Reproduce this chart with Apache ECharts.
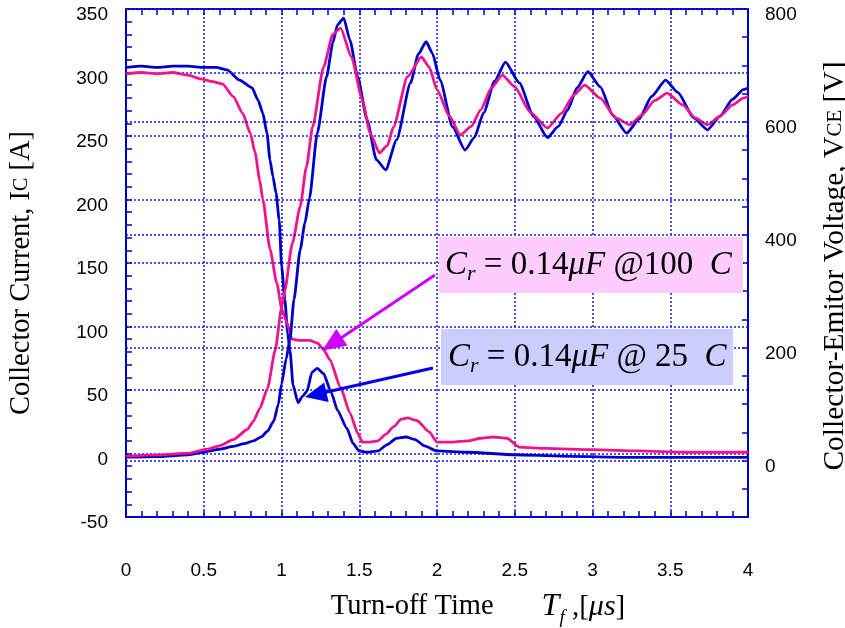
<!DOCTYPE html>
<html>
<head>
<meta charset="utf-8">
<script src="https://cdn.jsdelivr.net/npm/echarts@6/dist/echarts.min.js"></script>
<style>
html, body { margin: 0; padding: 0; background: #fff; }
#chart { width: 845px; height: 628px; }
</style>
</head>
<body>
<div id="chart"></div>
<script>
// Turn-off waveforms of the IGBT with a 0.14 uF snubber capacitor, 25 C vs 100 C.
// Time in microseconds, current in A (left axis), voltage in V (right axis).

// Collector current at 25 C  [t (us), Ic (A)]
const ic25 = [
  [0, 304], [0.1, 305], [0.2, 304], [0.3, 305], [0.4, 305], [0.5, 304], [0.58, 304],
  [0.65, 302], [0.73, 294], [0.81, 288], [0.85, 278], [0.88, 268], [0.907, 252],
  [0.926, 231], [0.945, 218], [0.965, 205], [0.985, 184], [1.001, 147], [1.022, 121],
  [1.039, 95], [1.055, 81], [1.074, 54], [1.106, 40], [1.135, 45], [1.164, 49],
  [1.196, 64], [1.23, 67], [1.27, 63], [1.32, 48], [1.36, 34], [1.42, 20], [1.46, 8],
  [1.5, 2], [1.55, 1], [1.62, 2], [1.68, 7], [1.74, 12], [1.8, 13], [1.86, 11],
  [1.92, 6], [2.0, 2], [2.2, 1], [2.5, -1], [2.8, -2], [3.2, -3], [3.6, -3], [4.0, -3]
];

// Collector current at 100 C
const ic100 = [
  [0, 299], [0.1, 300], [0.2, 299], [0.3, 300], [0.4, 298], [0.48, 295], [0.55, 293],
  [0.62, 291], [0.69, 281], [0.75, 268], [0.8, 252], [0.83, 237], [0.86, 215],
  [0.88, 200], [0.926, 161], [0.97, 134], [1.003, 113], [1.035, 103], [1.068, 90],
  [1.12, 89], [1.18, 89], [1.23, 87], [1.27, 82], [1.31, 74], [1.38, 52], [1.44, 32],
  [1.49, 16], [1.52, 9], [1.57, 9], [1.62, 10], [1.67, 15], [1.72, 21], [1.77, 27],
  [1.81, 28], [1.87, 26], [1.95, 17], [2.0, 9], [2.1, 9], [2.2, 10], [2.28, 12],
  [2.36, 13], [2.45, 12], [2.53, 5], [2.7, 4], [3.0, 3], [3.3, 2], [3.6, 1], [4.0, 1]
];

// Collector-emitter voltage at 25 C  [t (us), Vce (V)]
const vce25 = [
  [0, 6], [0.2, 7], [0.4, 10], [0.52, 16], [0.6, 20], [0.69, 25], [0.76, 30], [0.82, 35],
  [0.87, 42], [0.91, 52], [0.95, 70], [0.98, 100], [1.0, 135], [1.03, 180], [1.055, 215],
  [1.08, 285], [1.12, 373], [1.15, 420], [1.18, 465], [1.23, 580], [1.29, 680],
  [1.33, 740], [1.36, 772], [1.40, 784], [1.44, 745], [1.49, 680], [1.55, 604],
  [1.61, 533], [1.67, 515], [1.74, 568], [1.83, 669], [1.88, 720], [1.93, 742],
  [1.97, 722], [2.02, 674], [2.1, 591], [2.18, 550], [2.24, 572], [2.30, 616],
  [2.37, 672], [2.44, 706], [2.53, 669], [2.62, 610], [2.71, 572], [2.78, 592],
  [2.84, 621], [2.9, 660], [2.97, 689], [3.05, 662], [3.13, 612], [3.22, 580],
  [3.3, 605], [3.38, 645], [3.47, 674], [3.55, 652], [3.65, 607], [3.74, 586],
  [3.82, 610], [3.9, 640], [3.97, 657], [4.0, 660]
];

// Collector-emitter voltage at 100 C
const vce100 = [
  [0, 8], [0.2, 10], [0.4, 13], [0.52, 20], [0.6, 26], [0.69, 37], [0.78, 55], [0.82, 70],
  [0.86, 92], [0.91, 128], [0.96, 196], [1.0, 270], [1.02, 300], [1.07, 385], [1.12, 450],
  [1.16, 520], [1.2, 591], [1.27, 697], [1.33, 755], [1.38, 766], [1.45, 715],
  [1.52, 639], [1.57, 580], [1.63, 545], [1.68, 558], [1.72, 591], [1.81, 680],
  [1.9, 715], [1.95, 697], [2.0, 657], [2.08, 610], [2.15, 577], [2.22, 592],
  [2.28, 621], [2.35, 660], [2.42, 683], [2.5, 662], [2.6, 617], [2.71, 589],
  [2.8, 615], [2.88, 648], [2.95, 665], [3.05, 642], [3.15, 607], [3.24, 595],
  [3.32, 613], [3.4, 638], [3.48, 651], [3.58, 630], [3.66, 607], [3.74, 595],
  [3.82, 610], [3.9, 630], [3.97, 642], [4.0, 645]
];

// Labelled values of the voltage axis
const voltTicks = [0, 200, 400, 600, 800];

const FRAME = '#0000cc';
const GRID = '#1a1ae0';
const BLUE = '#0000cc';
const PINK = '#f0148c';
const SERIF = 'Liberation Serif';
const SANS = 'Liberation Sans';

const chart = echarts.init(document.getElementById('chart'), null, { renderer: 'canvas' });

const tickStyle = { color: FRAME, width: 1.5 };
const gridStyle = { color: GRID, width: 1.5, type: [2, 2] };
const lineAxis = { onZero: false, show: true, lineStyle: { color: FRAME, width: 2 } };
const tickLabel = { color: '#000', fontFamily: SANS, fontSize: 19 };
// vertical-axis numbers sit slightly below their ticks
const yTickLabel = Object.assign({ verticalAlign: 'top', lineHeight: 12 }, tickLabel);

function trace(name, data, color, yIndex) {
  return {
    name: name, type: 'line', data: data, yAxisIndex: yIndex,
    showSymbol: false, symbol: 'none', smooth: 0.2, smoothMonotone: 'x',
    lineStyle: { color: color, width: 2.8 }, itemStyle: { color: color },
    animation: false, silent: true
  };
}

chart.setOption({
  animation: false,
  backgroundColor: '#fff',
  grid: { left: 126, right: 97, top: 9, bottom: 111, containLabel: false, outerBoundsMode: 'none' },
  xAxis: [
    {
      type: 'value', position: 'bottom', min: 0, max: 4, interval: 0.5,
      axisLine: lineAxis,
      axisTick: { show: true, inside: true, length: 6, lineStyle: tickStyle },
      minorTick: { show: true, splitNumber: 5, length: 6, lineStyle: tickStyle },
      axisLabel: Object.assign({ margin: 44 }, tickLabel),
      splitLine: { show: true, lineStyle: gridStyle },
      name: '{a|Turn-off Time}{g| }{t|T}{f|f}{p| ,[}{m|\u03bcs}{p|]}',
      nameLocation: 'middle', nameGap: 70,
      nameTextStyle: {
        padding: [0, 0, 0, 82],
        rich: {
          a: { fontFamily: SERIF, fontSize: 28.5, color: '#000', lineHeight: 40 },
          g: { fontFamily: SERIF, fontSize: 28, width: 48 },
          t: { fontFamily: SERIF, fontSize: 32, fontStyle: 'italic', color: '#000', lineHeight: 40 },
          f: { fontFamily: SERIF, fontSize: 19, fontStyle: 'italic', color: '#000', lineHeight: 18, verticalAlign: 'bottom' },
          p: { fontFamily: SERIF, fontSize: 29, color: '#000', lineHeight: 40 },
          m: { fontFamily: SERIF, fontSize: 30, fontStyle: 'italic', color: '#000', lineHeight: 40 }
        }
      }
    },
    {
      type: 'value', position: 'top', min: 0, max: 4, interval: 0.5,
      axisLine: lineAxis,
      axisTick: { show: true, inside: true, length: 6, lineStyle: tickStyle },
      minorTick: { show: true, splitNumber: 5, length: 6, lineStyle: tickStyle },
      axisLabel: { show: false },
      splitLine: { show: false }
    }
  ],
  yAxis: [
    {
      type: 'value', position: 'left', min: -50, max: 350, interval: 50,
      axisLine: lineAxis,
      axisTick: { show: true, inside: true, length: 6, lineStyle: tickStyle },
      minorTick: { show: true, splitNumber: 5, length: 6, lineStyle: tickStyle },
      axisLabel: Object.assign({ margin: 18 }, yTickLabel),
      splitLine: { show: true, lineStyle: gridStyle },
      name: '{a|Collector Current, I}{b|C}{a| [A]}',
      nameLocation: 'middle', nameRotate: 90, nameGap: 90,
      nameTextStyle: {
        padding: [0, 20, 0, 0],
        rich: {
          a: { fontFamily: SERIF, fontSize: 28.5, color: '#000' },
          b: { fontFamily: SERIF, fontSize: 20, color: '#000' }
        }
      }
    },
    {
      type: 'value', position: 'right', min: -100, max: 800, interval: 100,
      axisLine: lineAxis,
      axisTick: { show: false },
      axisLabel: Object.assign({
        margin: 17,
        formatter: function (v) { return voltTicks.indexOf(v) >= 0 ? String(v) : ''; }
      }, yTickLabel),
      splitLine: { show: false },
      name: '{a|Collector-Emitor Voltage, V}{b|CE}{a| [V]}',
      nameLocation: 'middle', nameRotate: 90, nameGap: 72,
      nameTextStyle: {
        padding: [0, 6, 0, 0],
        rich: {
          a: { fontFamily: SERIF, fontSize: 29.5, color: '#000' },
          b: { fontFamily: SERIF, fontSize: 21, color: '#000' }
        }
      }
    },
    {
      type: 'value', position: 'right', min: -100, max: 800, interval: 50,
      axisLine: lineAxis,
      axisTick: { show: true, inside: true, length: 6, lineStyle: tickStyle },
      axisLabel: { show: false },
      splitLine: { show: false }
    }
  ],
  series: [
    {
      // dotted guide lines at the labelled voltage values
      type: 'line', yAxisIndex: 1, data: [], silent: true,
      markLine: {
        silent: true, symbol: ['none', 'none'], label: { show: false },
        lineStyle: gridStyle, animation: false,
        data: voltTicks.map(function (v) { return { yAxis: v }; })
      }
    },
    trace('Ic 25C', ic25, BLUE, 0),
    trace('Ic 100C', ic100, PINK, 0),
    trace('Vce 25C', vce25, BLUE, 1),
    trace('Vce 100C', vce100, PINK, 1)
  ]
});

// Annotation boxes and arrows
function px(t, a) { return chart.convertToPixel({ xAxisIndex: 0, yAxisIndex: 0 }, [t, a]); }

function arrow(tail, tip, color, headLen, headW) {
  const p0 = px(tail[0], tail[1]);
  const p1 = px(tip[0], tip[1]);
  const dx = p1[0] - p0[0], dy = p1[1] - p0[1];
  const len = Math.sqrt(dx * dx + dy * dy);
  const ux = dx / len, uy = dy / len;
  const bx = p1[0] - ux * headLen, by = p1[1] - uy * headLen;
  const nx = -uy * headW / 2, ny = ux * headW / 2;
  return [
    { type: 'line', z: 60, silent: true,
      shape: { x1: p0[0], y1: p0[1], x2: bx + ux * 2, y2: by + uy * 2 },
      style: { stroke: color, lineWidth: 3 } },
    { type: 'polygon', z: 60, silent: true,
      shape: { points: [[p1[0], p1[1]], [bx + nx, by + ny], [bx - nx, by - ny]] },
      style: { fill: color } }
  ];
}

const labelRich = {
  i: { fontFamily: SERIF, fontSize: 33, fontStyle: 'italic', fill: '#000', lineHeight: 40 },
  s: { fontFamily: SERIF, fontSize: 22, fontStyle: 'italic', fill: '#000', lineHeight: 20, verticalAlign: 'bottom' },
  n: { fontFamily: SERIF, fontSize: 33, fill: '#000', lineHeight: 40 }
};

const graphics = [
  { type: 'rect', z: 50, silent: true, shape: { x: 439, y: 237, width: 304, height: 56 }, style: { fill: '#ffccff' } },
  { type: 'text', z: 51, silent: true, x: 445, y: 265,
    style: { text: '{i|C}{s|r}{n| = 0.14}{i|\u03bcF}{n| @100  }{i|C}', rich: labelRich, verticalAlign: 'middle', align: 'left' } },
  { type: 'rect', z: 50, silent: true, shape: { x: 441, y: 329, width: 292, height: 56 }, style: { fill: '#ccccff' } },
  { type: 'text', z: 51, silent: true, x: 448, y: 357,
    style: { text: '{i|C}{s|r}{n| = 0.14}{i|\u03bcF}{n| @ 25  }{i|C}', rich: labelRich, verticalAlign: 'middle', align: 'left' } }
].concat(
  arrow([1.987, 140.5], [1.26, 81], '#cc00ff', 24, 20),
  arrow([1.974, 67.3], [1.151, 44.5], '#0000ee', 22, 20)
);

chart.setOption({ graphic: graphics });
</script>
</body>
</html>
